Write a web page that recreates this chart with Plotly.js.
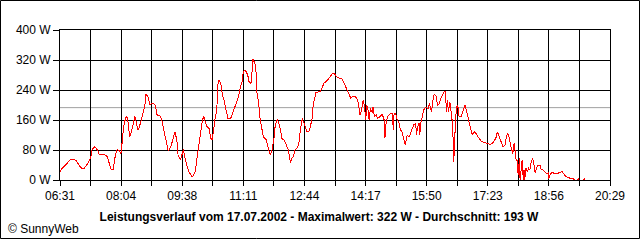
<!DOCTYPE html>
<html>
<head>
<meta charset="utf-8">
<script src="https://cdn.plot.ly/plotly-3.0.1.min.js"></script>
<style>
  html, body { margin: 0; padding: 0; background: #ffffff; }
  #chart { width: 640px; height: 240px; }
  .js-line { shape-rendering: crispEdges; }
</style>
</head>
<body>
<div id="chart"></div>
<script>
const day = '2002-07-17';
const dayLabel = '17.07.2002';
const maxW = 322;
const avgW = 193;

const times = [
'06:31','06:33','06:38','06:43','06:47','06:52','06:56','07:01','07:04','07:08',
'07:11','07:15','07:18','07:20','07:24','07:28','07:31','07:39','07:43','07:47',
'07:49','07:52','07:55','07:58','08:01','08:04','08:06','08:08','08:11','08:13',
'08:15','08:17','08:20','08:22','08:25','08:27','08:30','08:32','08:35','08:37',
'08:40','08:42','08:45','08:48','08:51','08:53','08:56','08:59','09:03','09:06',
'09:08','09:11','09:14','09:16','09:20','09:23','09:26','09:29','09:31','09:35',
'09:39','09:41','09:44','09:48','09:52','09:54','09:57','09:59','10:02','10:05',
'10:08','10:10','10:13','10:15','10:18','10:21','10:23','10:25','10:27','10:30',
'10:31','10:33','10:36','10:39','10:41','10:44','10:47','10:51','10:55','10:59',
'11:03','11:06','11:08','11:10','11:12','11:14','11:17','11:19','11:22','11:23',
'11:25','11:28','11:30','11:31','11:34','11:36','11:39','11:41','11:45','11:48',
'11:50','11:52','11:54','11:57','11:59','12:02','12:04','12:07','12:09','12:13',
'12:16','12:19','12:22','12:24','12:27','12:29','12:32','12:35','12:37','12:40',
'12:42','12:45','12:47','12:50','12:52','12:55','12:57','13:01','13:05','13:08',
'13:10','13:13','13:16','13:19','13:23','13:26','13:29','13:33','13:38','13:41',
'13:44','13:46','13:49','13:51','13:54','13:56','14:00','14:03','14:05','14:07',
'14:08','14:10','14:12','14:13','14:15','14:17','14:18','14:20','14:22','14:24',
'14:27','14:28','14:30','14:33','14:35','14:39','14:42','14:45','14:46','14:48',
'14:50','14:52','14:55','14:57','14:59','15:00','15:02','15:05','15:07','15:10',
'15:12','15:15','15:17','15:18','15:20','15:23','15:25','15:28','15:30','15:33',
'15:34','15:36','15:38','15:39','15:41','15:43','15:45','15:48','15:52','15:54',
'15:55','15:57','15:59','16:01','16:04','16:06','16:09','16:11','16:14','16:16',
'16:18','16:19','16:20','16:21','16:23','16:25','16:26','16:28','16:29','16:30',
'16:31','16:33','16:34','16:35','16:37','16:39','16:42','16:44','16:47','16:48',
'16:50','16:52','16:54','16:57','16:59','17:02','17:05','17:08','17:12','17:17',
'17:22','17:27','17:30','17:32','17:35','17:37','17:39','17:41','17:44','17:46',
'17:49','17:51','17:53','17:55','17:58','17:59','18:01','18:03','18:04','18:06',
'18:08','18:09','18:11','18:12','18:15','18:17','18:18','18:19','18:21','18:23',
'18:25','18:27','18:29','18:31','18:33','18:35','18:38','18:40','18:43','18:44',
'18:47','18:50','18:53','18:55','18:56','18:58','19:01','19:04','19:08','19:12',
'19:16','19:18','19:21','19:25','19:29','19:33','19:35','19:39','19:40','19:41',
'19:42','19:49','19:50','19:51'
];

const watts = [
21,29,37,46,55,56,51,37,31,31,
40,49,62,82,89,80,68,68,62,37,
28,28,62,82,78,71,102,142,166,169,
151,115,129,147,171,155,133,142,162,173,
195,228,222,200,204,204,200,173,173,160,
142,120,98,77,89,111,129,107,64,55,
82,62,40,20,9,11,22,49,89,133,
160,169,155,142,138,111,107,142,160,187,
249,267,258,222,213,187,164,164,182,204,
222,249,258,284,293,291,280,262,258,275,
322,311,284,235,200,160,138,115,108,89,
73,68,80,111,147,162,155,133,111,105,
93,80,46,58,64,80,84,98,129,164,
155,138,129,129,138,164,204,233,235,237,
244,258,262,267,277,283,284,274,271,269,
258,249,240,231,218,222,224,218,209,187,
173,182,200,213,195,160,200,191,160,191,
178,195,169,173,164,169,175,160,111,155,
169,173,178,178,133,178,178,160,155,133,
129,107,93,102,120,115,124,133,147,151,
120,142,151,120,155,169,187,193,191,204,
195,182,209,229,224,200,204,218,227,235,
235,209,182,213,182,209,191,173,151,107,
49,133,178,195,200,169,169,178,195,200,
187,173,160,133,120,129,124,115,105,100,
98,95,98,102,111,126,124,111,98,89,
93,115,124,115,89,84,71,98,75,53,
53,13,58,0,53,0,27,0,31,22,
31,27,49,58,44,18,36,40,40,28,
27,22,16,20,4,16,20,18,16,20,
22,18,11,7,4,4,0,0,3,3,
0,0,3,0
];

const xStart = '06:31';
const xEnd = '20:29';
const xTickLabels = ['06:31','08:04','09:38','11:11','12:44','14:17','15:50','17:23','18:56','20:29'];
const yTickValues = [0, 80, 160, 240, 320, 400];
const yTickLabels = ['0 W','80 W','160 W','240 W','320 W','400 W'];

function toDate(hm) { return day + ' ' + hm; }
function ms(hm) { return new Date(day + 'T' + hm + ':00Z').getTime(); }
function fmt(t) {
  const d = new Date(t);
  const p = n => String(n).padStart(2, '0');
  return day + ' ' + p(d.getUTCHours()) + ':' + p(d.getUTCMinutes()) + ':' + p(d.getUTCSeconds()) + '.' + String(d.getUTCMilliseconds()).padStart(3, '0');
}

const t0 = ms(xStart), t1 = ms(xEnd);
const nDiv = (xTickLabels.length - 1) * 2;
const xTickVals = [], xTickText = [];
for (let i = 0; i <= nDiv; i++) {
  xTickVals.push(fmt(t0 + (t1 - t0) * i / nDiv));
  xTickText.push(i % 2 === 0 ? xTickLabels[i / 2] : '');
}

const font = 'Liberation Sans, Arial, sans-serif';

const trace = {
  type: 'scatter',
  mode: 'lines',
  x: times.map(toDate),
  y: watts,
  line: { color: '#ff0000', width: 1 },
  hoverinfo: 'skip'
};

const W = 640, H = 240, L = 60, R = 30, T = 30, B = 60;
const pw = W - L - R, ph = H - T - B;
const px = x => (x - L) / pw;
const py = y => (H - B - y) / ph;

const layout = {
  width: W, height: H,
  margin: { l: L, r: R, t: T, b: B, pad: 0 },
  paper_bgcolor: '#ffffff',
  plot_bgcolor: '#ffffff',
  showlegend: false,
  font: { family: font, size: 11, color: '#000000' },
  title: {
    text: '<b>Leistungsverlauf vom ' + dayLabel + ' - Maximalwert: ' + maxW + ' W - Durchschnitt: ' + avgW + ' W</b>',
    font: { family: font, size: 12, color: '#000000' },
    xref: 'container', yref: 'container',
    x: 319 / W, y: 1 - 216.5 / H,
    xanchor: 'center', yanchor: 'middle'
  },
  xaxis: {
    type: 'date',
    range: [toDate(xStart), toDate(xEnd)],
    tickmode: 'array',
    tickvals: xTickVals,
    ticktext: xTickText,
    showgrid: true, gridcolor: '#000000', gridwidth: 1,
    zeroline: false,
    showline: true, linecolor: '#000000', linewidth: 1, mirror: true,
    ticks: 'outside', ticklen: 5, tickwidth: 1, tickcolor: '#000000',
    tickfont: { family: font, size: 12, color: '#000000' },
    fixedrange: true
  },
  yaxis: {
    range: [0, 400],
    tickmode: 'array',
    tickvals: yTickValues,
    ticktext: yTickLabels,
    showgrid: true, gridcolor: '#000000', gridwidth: 1,
    zeroline: false,
    showline: true, linecolor: '#000000', linewidth: 1, mirror: true,
    ticks: 'outside', ticklen: 6, tickwidth: 1, tickcolor: '#000000',
    tickfont: { family: font, size: 12, color: '#000000' },
    fixedrange: true
  },
  shapes: [
    {
      type: 'line', xref: 'paper', yref: 'y',
      x0: 0, x1: 1, y0: avgW, y1: avgW,
      line: { color: '#a0a0a0', width: 1 },
      layer: 'between'
    },
    {
      type: 'rect', xref: 'paper', yref: 'paper',
      x0: px(0.5), x1: px(639.5), y0: py(238.5), y1: py(0.5),
      line: { color: '#000000', width: 1 },
      fillcolor: 'rgba(0,0,0,0)',
      layer: 'above'
    }
  ],
  annotations: [
    {
      text: '\u00A9 SunnyWeb',
      xref: 'paper', yref: 'paper',
      x: px(6), y: py(229),
      xanchor: 'left', yanchor: 'middle',
      showarrow: false,
      font: { family: font, size: 12, color: '#000000' }
    }
  ]
};

Plotly.newPlot('chart', [trace], layout, { staticPlot: true, displayModeBar: false });
</script>
</body>
</html>
